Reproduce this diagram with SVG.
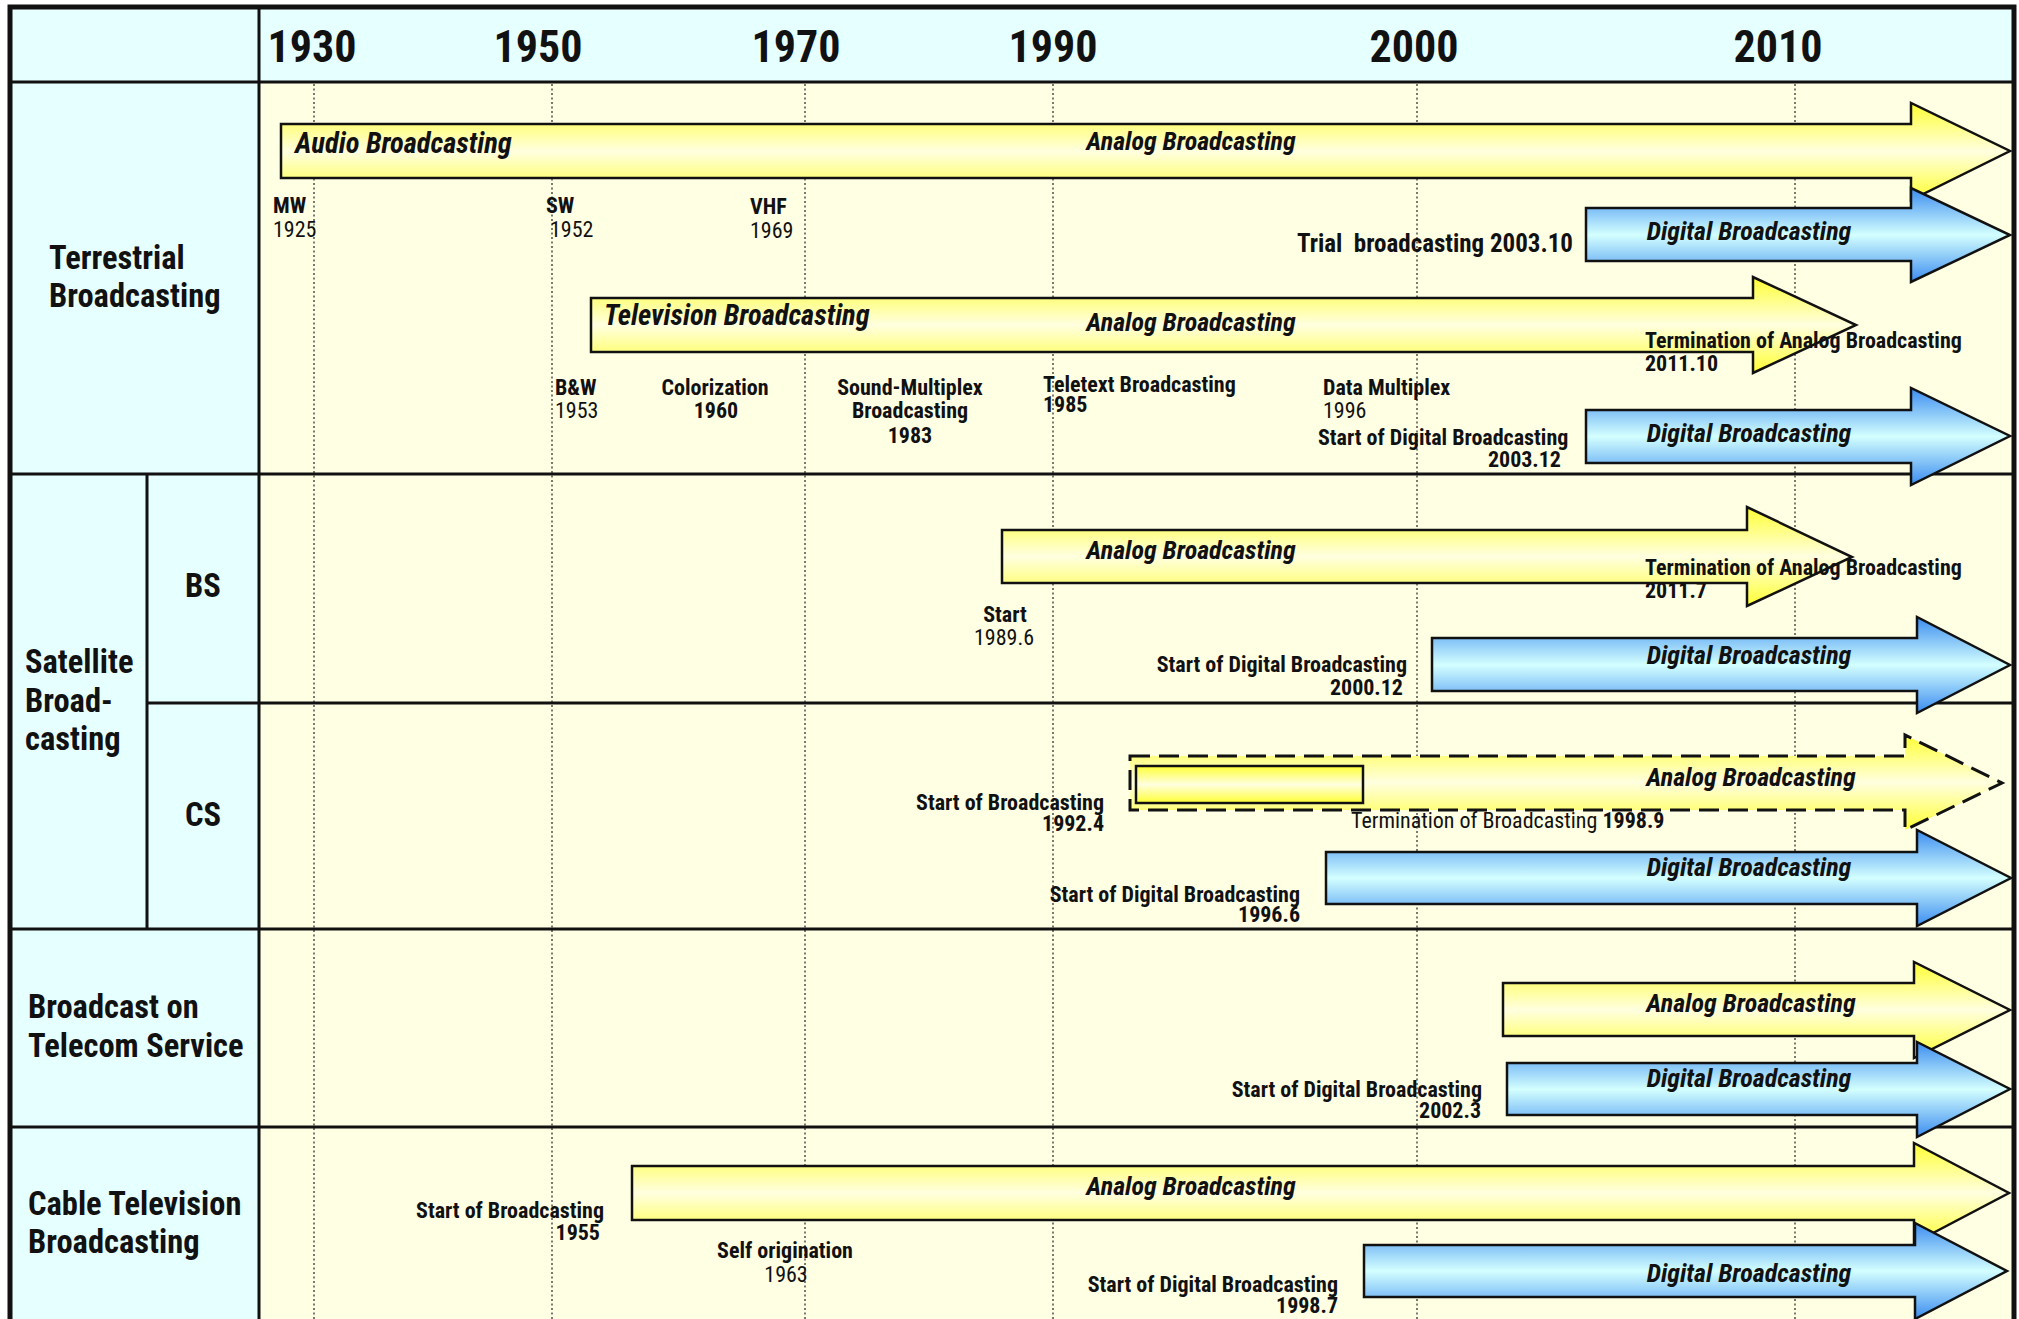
<svg xmlns="http://www.w3.org/2000/svg" width="2019" height="1319" viewBox="0 0 2019 1319">
<defs>
<linearGradient id="gy" x1="0" y1="0" x2="0" y2="1">
<stop offset="0" stop-color="#FFFF33"/><stop offset="0.5" stop-color="#FFFFE0"/><stop offset="1" stop-color="#FFFF33"/>
</linearGradient>
<linearGradient id="gb" x1="0" y1="0" x2="0" y2="1">
<stop offset="0" stop-color="#3A8CF0"/><stop offset="0.5" stop-color="#D4FFFF"/><stop offset="1" stop-color="#3A8CF0"/>
</linearGradient>
</defs>
<style>
text{font-family:"Liberation Sans Narrow","Roboto Condensed","DejaVu Sans Condensed","Liberation Sans",sans-serif;fill:#111}
.yr{font-size:44px;font-weight:bold;text-anchor:middle}
.row{font-size:32.5px;font-weight:bold}
.b{font-size:22px;font-weight:bold}
.r{font-size:22px;font-weight:normal}
.lbl{font-size:26px;font-weight:bold;font-style:italic}
.big{font-size:28.5px}
.mid{text-anchor:middle}
.end{text-anchor:end}
.grid{stroke:#333;stroke-width:1.3;stroke-dasharray:2 2.5;fill:none}
.line{stroke:#111;stroke-width:3;fill:none}
.ay{fill:url(#gy);stroke:#111;stroke-width:2.5;stroke-linejoin:miter}
.ab{fill:url(#gb);stroke:#111;stroke-width:2.5;stroke-linejoin:miter}
.ad{fill:url(#gy);stroke:#111;stroke-width:3;stroke-dasharray:20 9}
</style>
<g id="background">
<rect x="10" y="7" width="2004" height="1330" fill="#FFFFE4"/>
<rect x="10" y="7" width="2004" height="75" fill="#E6FFFF"/>
<rect x="10" y="82" width="249" height="1250" fill="#E6FFFF"/>
</g>
<g id="gridlines">
<line class="grid" x1="314" y1="84" x2="314" y2="1319"/>
<line class="grid" x1="552" y1="84" x2="552" y2="1319"/>
<line class="grid" x1="805" y1="84" x2="805" y2="1319"/>
<line class="grid" x1="1053" y1="84" x2="1053" y2="1319"/>
<line class="grid" x1="1417" y1="84" x2="1417" y2="1319"/>
<line class="grid" x1="1795" y1="84" x2="1795" y2="1319"/>
</g>
<g id="table-lines">
<line class="line" x1="10" y1="82" x2="2014" y2="82"/>
<line class="line" x1="10" y1="474" x2="2014" y2="474"/>
<line class="line" x1="147" y1="703" x2="2014" y2="703"/>
<line class="line" x1="10" y1="929" x2="2014" y2="929"/>
<line class="line" x1="10" y1="1127" x2="2014" y2="1127"/>
<line class="line" x1="259" y1="7" x2="259" y2="1319"/>
<line class="line" x1="147" y1="474" x2="147" y2="929"/>
<path d="M10,1325 V7 H2014 V1325" fill="none" stroke="#111" stroke-width="5"/>
</g>
<g id="years">
<text class="yr" x="312" y="62">1930</text>
<text class="yr" x="538" y="62">1950</text>
<text class="yr" x="796" y="62">1970</text>
<text class="yr" x="1053" y="62">1990</text>
<text class="yr" x="1414" y="62">2000</text>
<text class="yr" x="1778" y="62">2010</text>
</g>
<g id="row-labels">
<text class="row" x="49" y="269">Terrestrial</text>
<text class="row" x="49" y="307">Broadcasting</text>
<text class="row" x="25" y="673">Satellite</text>
<text class="row" x="25" y="712">Broad-</text>
<text class="row" x="25" y="750">casting</text>
<text class="row mid" x="203" y="597">BS</text>
<text class="row mid" x="203" y="826">CS</text>
<text class="row" x="28" y="1018">Broadcast on</text>
<text class="row" x="28" y="1057">Telecom Service</text>
<text class="row" x="28" y="1215">Cable Television</text>
<text class="row" x="28" y="1253">Broadcasting</text>
</g>
<g id="connectors">
<g id="terr-audio">
<path class="ay" d="M281,124 H1911 V103 L2010,151 L1911,200 V178 H281 Z"/>
<text class="lbl big" x="295" y="153">Audio Broadcasting</text>
<text class="lbl mid" x="1191" y="150">Analog Broadcasting</text>
</g>
<g id="terr-audio-digital">
<path class="ab" d="M1586,208 H1911 V188 L2010,235 L1911,282 V261 H1586 Z"/>
<text class="lbl mid" x="1749" y="240">Digital Broadcasting</text>
</g>
<g id="terr-tv">
<path class="ay" d="M591,298 H1753 V277 L1856,325 L1753,373 V352 H591 Z"/>
<text class="lbl big" x="604" y="325">Television Broadcasting</text>
<text class="lbl mid" x="1191" y="331">Analog Broadcasting</text>
</g>
<g id="terr-tv-digital">
<path class="ab" d="M1586,410 H1911 V388 L2010,436 L1911,485 V463 H1586 Z"/>
<text class="lbl mid" x="1749" y="442">Digital Broadcasting</text>
</g>
<g id="bs-analog">
<path class="ay" d="M1002,530 H1747 V507 L1852,557 L1747,606 V583 H1002 Z"/>
<text class="lbl mid" x="1191" y="559">Analog Broadcasting</text>
</g>
<g id="bs-digital">
<path class="ab" d="M1432,638 H1917 V617 L2010,665 L1917,713 V691 H1432 Z"/>
<text class="lbl mid" x="1749" y="664">Digital Broadcasting</text>
</g>
<g id="cs-analog">
<path class="ad" d="M1130,756 H1905 V735 L2002,783 L1905,830 V810 H1130 Z"/>
<rect class="ay" x="1136" y="766" width="227" height="37"/>
<text class="lbl mid" x="1751" y="786">Analog Broadcasting</text>
</g>
<g id="cs-digital">
<path class="ab" d="M1326,852 H1917 V830 L2011,878 L1917,926 V904 H1326 Z"/>
<text class="lbl mid" x="1749" y="876">Digital Broadcasting</text>
</g>
<g id="tel-analog">
<path class="ay" d="M1503,983 H1914 V962 L2010,1010 L1914,1058 V1036 H1503 Z"/>
<text class="lbl mid" x="1751" y="1012">Analog Broadcasting</text>
</g>
<g id="tel-digital">
<path class="ab" d="M1507,1063 H1917 V1042 L2010,1089 L1917,1137 V1115 H1507 Z"/>
<text class="lbl mid" x="1749" y="1087">Digital Broadcasting</text>
</g>
<g id="cable-analog">
<path class="ay" d="M632,1166 H1914 V1143 L2009,1193 L1914,1243 V1220 H632 Z"/>
<text class="lbl mid" x="1191" y="1195">Analog Broadcasting</text>
</g>
<g id="cable-digital">
<path class="ab" d="M1364,1245 H1915 V1223 L2007,1271 L1915,1319 V1297 H1364 Z"/>
<text class="lbl mid" x="1749" y="1282">Digital Broadcasting</text>
</g>
</g>
<g id="annotations">
<text class="b" x="273" y="213">MW</text>
<text class="r" x="273" y="237">1925</text>
<text class="b" x="546" y="213">SW</text>
<text class="r" x="550" y="237">1952</text>
<text class="b" x="750" y="214">VHF</text>
<text class="r" x="750" y="238">1969</text>
<text class="b end" x="1573" y="252" style="font-size:25px" xml:space="preserve">Trial  broadcasting 2003.10</text>
<text class="b" x="555" y="395">B&amp;W</text>
<text class="r" x="555" y="418">1953</text>
<text class="b mid" x="715" y="395">Colorization</text>
<text class="b mid" x="716" y="418">1960</text>
<text class="b mid" x="910" y="395">Sound-Multiplex</text>
<text class="b mid" x="910" y="418">Broadcasting</text>
<text class="b mid" x="910" y="443">1983</text>
<text class="b" x="1043" y="392">Teletext Broadcasting</text>
<text class="b" x="1043" y="412">1985</text>
<text class="b" x="1323" y="395">Data Multiplex</text>
<text class="r" x="1323" y="418">1996</text>
<text class="b" x="1318" y="445">Start of Digital Broadcasting</text>
<text class="b end" x="1561" y="467">2003.12</text>
<text class="b" x="1645" y="348">Termination of Analog Broadcasting</text>
<text class="b" x="1645" y="371">2011.10</text>
<text class="b mid" x="1005" y="622">Start</text>
<text class="r mid" x="1004" y="645">1989.6</text>
<text class="b end" x="1407" y="672">Start of Digital Broadcasting</text>
<text class="b end" x="1403" y="695">2000.12</text>
<text class="b" x="1645" y="575">Termination of Analog Broadcasting</text>
<text class="b" x="1645" y="598">2011.7</text>
<text class="b end" x="1104" y="810">Start of Broadcasting</text>
<text class="b end" x="1104" y="831">1992.4</text>
<text class="r" x="1351" y="828">Termination of Broadcasting <tspan font-weight="bold">1998.9</tspan></text>
<text class="b end" x="1300" y="902">Start of Digital Broadcasting</text>
<text class="b end" x="1300" y="922">1996.6</text>
<text class="b end" x="1482" y="1097">Start of Digital Broadcasting</text>
<text class="b end" x="1481" y="1118">2002.3</text>
<text class="b end" x="604" y="1218">Start of Broadcasting</text>
<text class="b end" x="600" y="1240">1955</text>
<text class="b mid" x="785" y="1258">Self origination</text>
<text class="r mid" x="786" y="1282">1963</text>
<text class="b end" x="1338" y="1292">Start of Digital Broadcasting</text>
<text class="b end" x="1338" y="1313">1998.7</text>
</g>
</svg>
